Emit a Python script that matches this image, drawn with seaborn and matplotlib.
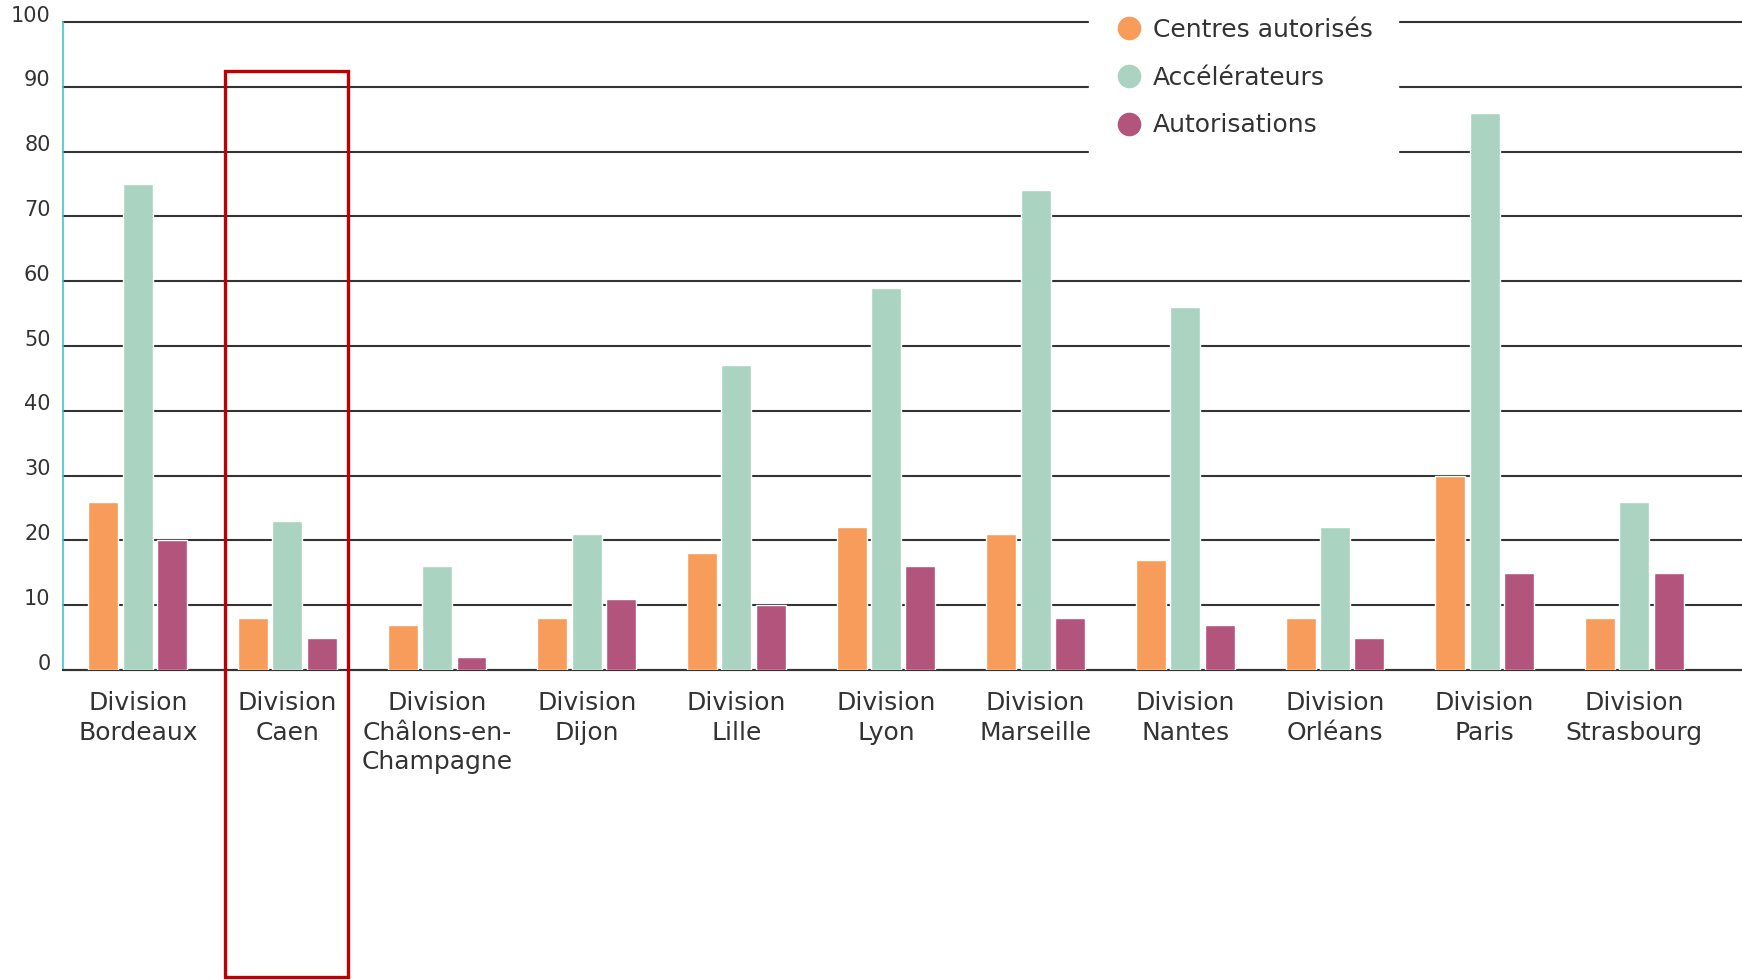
import matplotlib
matplotlib.use("Agg")
import matplotlib.pyplot as plt
from matplotlib.lines import Line2D
from matplotlib.patches import Rectangle
from matplotlib.transforms import ScaledTranslation
import pandas as pd
import seaborn as sns

# données
divisions = ["Division\nBordeaux", "Division\nCaen", "Division\nChâlons-en-\nChampagne",
             "Division\nDijon", "Division\nLille", "Division\nLyon", "Division\nMarseille",
             "Division\nNantes", "Division\nOrléans", "Division\nParis", "Division\nStrasbourg"]
centres = [26, 8, 7, 8, 18, 22, 21, 17, 8, 30, 8]
accelerateurs = [75, 23, 16, 21, 47, 59, 74, 56, 22, 86, 26]
autorisations = [20, 5, 2, 11, 10, 16, 8, 7, 5, 15, 15]
series = ["Centres autorisés", "Accélérateurs", "Autorisations"]
couleurs = ["#f79c5a", "#aad3c1", "#b3547c"]

df = pd.DataFrame({
    "division": divisions * 3,
    "serie": [s for s in series for _ in divisions],
    "valeur": centres + accelerateurs + autorisations,
})

sns.set_style("white")
plt.rcParams["font.family"] = ["DejaVu Sans"]
texte = "#333333"

fig = plt.figure(figsize=(17.42, 9.8), dpi=100)
ax = fig.add_axes([63 / 1742, 1 - 670 / 980, 1 - 63 / 1742, (670 - 22) / 980])

sns.barplot(data=df, x="division", y="valeur", hue="serie", palette=couleurs,
            width=0.69, gap=0.13, saturation=1, ax=ax, zorder=3, legend=False)

ax.set_ylim(0, 100)
ax.set_xlim(-0.5, 10.72)
ax.set_yticks(range(0, 101, 10))
ax.yaxis.grid(True, color="#333333", linewidth=1.5)
ax.set_axisbelow(True)
for ligne in ax.get_ygridlines():
    ligne.set_clip_on(False)
ax.set_xlabel("")
ax.set_ylabel("")

for s in ["top", "right"]:
    ax.spines[s].set_visible(False)
ax.spines["left"].set_color("#3cc7c9")
ax.spines["left"].set_linewidth(1.2)
ax.spines["bottom"].set_color("#333333")
ax.spines["bottom"].set_linewidth(1.5)

ax.tick_params(axis="y", length=0, pad=9, labelsize=15, labelcolor=texte)
ax.tick_params(axis="x", length=0, pad=15, labelsize=18, labelcolor=texte)
for lab in ax.get_yticklabels():
    lab.set_transform(lab.get_transform() + ScaledTranslation(0, 6 / 72, fig.dpi_scale_trans))
for lab in ax.get_xticklabels():
    lab.set_linespacing(1.3)

# légende avec des ronds
poignees = [Line2D([], [], marker="o", linestyle="", markersize=16,
                   markerfacecolor=c, markeredgecolor=c) for c in couleurs]
leg = ax.legend(poignees, series, loc="upper left", bbox_to_anchor=(0.611, 1.045),
                frameon=True, fontsize=18, labelcolor=texte, borderaxespad=0,
                handletextpad=0.36, labelspacing=0.95, borderpad=1.0, handlelength=1.2)
leg.get_frame().set_facecolor("white")
leg.get_frame().set_edgecolor("white")
leg.get_frame().set_alpha(1)
leg.set_zorder(10)

# cadre rouge autour de Caen
ax.add_patch(Rectangle((0.583, -47.3), 0.822, 139.7, transform=ax.transData,
                       fill=False, edgecolor="#c00000", linewidth=2.4,
                       clip_on=False, zorder=6))

fig.savefig("out.png", dpi=100)
